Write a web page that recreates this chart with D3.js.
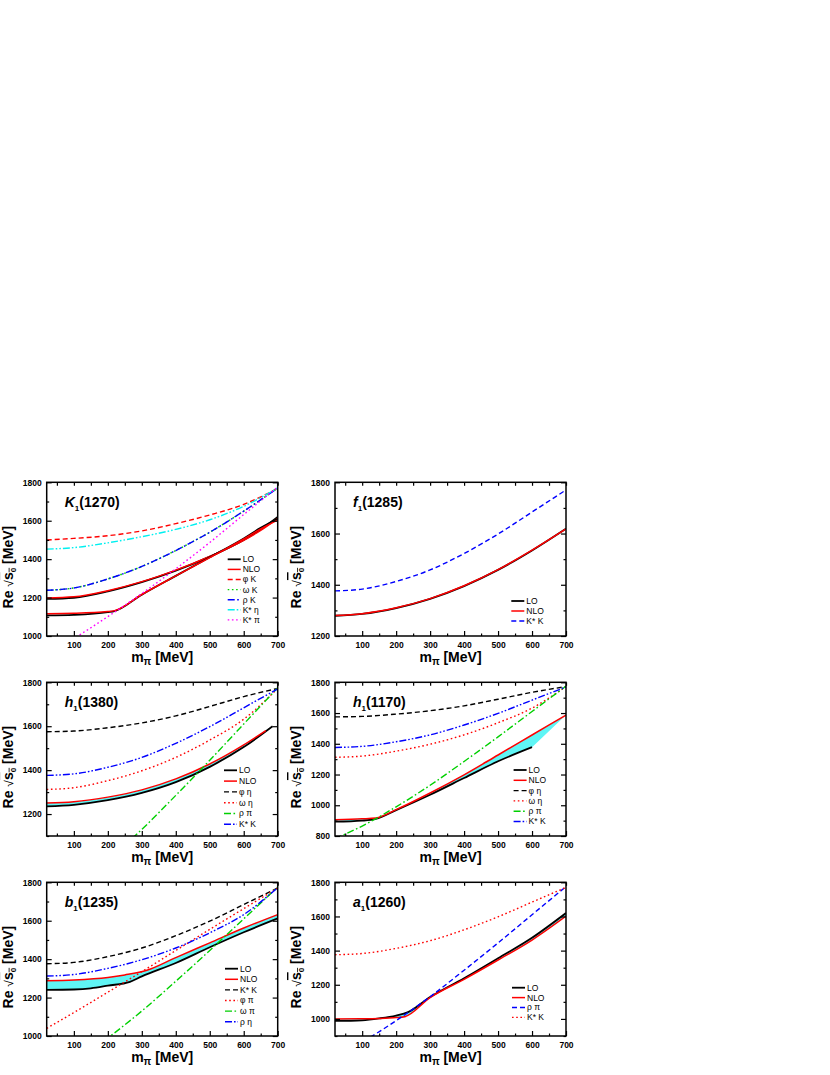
<!DOCTYPE html>
<html lang="en">
<head>
<meta charset="UTF-8" />
<title>Axial-vector poles vs pion mass</title>
<style>
    html, body { margin: 0; padding: 0; background: #fff; }
    svg { display: block; font-family: Arial, "Liberation Sans", sans-serif; }
</style>
</head>
<body>
<svg id="svg" width="830" height="1075"></svg>
<script src="https://cdn.jsdelivr.net/npm/d3@7"></script>
<script>
// common pion-mass grid (MeV) for the threshold curves
const mpi = [20, 100, 200, 300, 400, 500, 600, 700];

// thresholds shared between panels
const thrKstarK  = [1376, 1383, 1413, 1458, 1522, 1598, 1684, 1770];
const thrPhiEta  = [1575, 1578, 1593, 1615, 1647, 1690, 1735, 1772];
const thrOmegaEta = [1312, 1320, 1352, 1397, 1458, 1537, 1632, 1772]; // also rho eta
const thrRhoPi   = [783, 865, 990, 1130, 1285, 1445, 1610, 1775];     // also omega pi

// K1(1270)
const thrPhiK    = [1500, 1508, 1522, 1547, 1585, 1630, 1685, 1768];
const thrRhoK    = [1238, 1250, 1297, 1362, 1445, 1540, 1650, 1770];
const thrKstarEta = [1452, 1460, 1485, 1517, 1555, 1605, 1675, 1770];
const thrKstarPi = [910, 988, 1101, 1221, 1350, 1487, 1632, 1775];
const k1UpX   = [20, 100, 200, 300, 400, 500, 600, 650, 700];
const k1LOup  = [1193, 1199, 1232, 1280, 1340, 1413, 1500, 1555, 1620];
const k1NLOup = [1198, 1204, 1236, 1283, 1343, 1414, 1498, 1550, 1612];
const k1LowX   = [20, 100, 200, 220, 300, 400, 500, 600, 650, 700];
const k1LOlow  = [1107, 1110, 1124, 1130, 1215, 1313, 1410, 1508, 1563, 1610];
const k1NLOlow = [1116, 1118, 1127, 1132, 1216, 1313, 1408, 1505, 1558, 1603];

// f1(1285)
const f1LO  = [1279, 1286, 1309, 1345, 1395, 1458, 1534, 1619];
const f1NLO = [1280, 1287, 1310, 1346, 1396, 1459, 1535, 1618];

// h1(1380)
const h1aLOx  = [20, 100, 200, 300, 400, 500, 600, 685];
const h1aLO   = [1235, 1242, 1263, 1296, 1345, 1415, 1505, 1600];
const h1aNLOx = [20, 100, 200, 300, 400, 500, 600, 665];
const h1aNLO  = [1250, 1256, 1277, 1310, 1360, 1428, 1515, 1580];

// h1(1170)
const h1bLOx  = [20, 100, 140, 200, 300, 400, 500, 600];
const h1bLO   = [893, 900, 911, 968, 1068, 1177, 1286, 1378];
const h1bNLOx = [20, 100, 140, 200, 300, 400, 500, 600, 700];
const h1bNLO  = [906, 912, 917, 972, 1080, 1198, 1327, 1457, 1587];

// b1(1235)
const b1LOx  = [20, 100, 150, 200, 265, 300, 400, 500, 600, 700];
const b1LO   = [1240, 1242, 1248, 1262, 1282, 1310, 1380, 1462, 1540, 1612];
const b1NLOx = [20, 100, 200, 250, 315, 400, 500, 600, 700];
const b1NLO  = [1288, 1292, 1305, 1318, 1342, 1408, 1485, 1562, 1632];
const thrPhiPi = [1040, 1122, 1228, 1335, 1445, 1555, 1663, 1770];

// a1(1260)
const a1LOx  = [20, 100, 150, 200, 235, 300, 400, 500, 600, 700];
const a1LO   = [988, 992, 1003, 1020, 1040, 1128, 1238, 1355, 1475, 1620];
const a1NLOx = [20, 100, 150, 200, 225, 300, 400, 500, 600, 700];
const a1NLO  = [1000, 1001, 1003, 1008, 1013, 1125, 1232, 1345, 1462, 1602];

// ticks
const xMajor = [100, 200, 300, 400, 500, 600, 700];
const xMinor = [50, 150, 250, 350, 450, 550, 650];

// layout
const colX = [46.7, 335];
const rowY = [482.3, 682.3, 882.3];
const plotW = 231, plotH = 153.7;

// line styles
const DASH = "5,3", DOT = "1.6,2.6", DASHDOT = "7,2.5,1.6,2.5", DASHDOTDOT = "7,2,1.6,2,1.6,2";
const RED = "#ff0000", BLUE = "#0000ff", GREEN = "#00d000", CYAN = "#00f0f0", MAG = "#ff00ff";

function LO(x, y, leg = true) { return { x, y, color: "#000", dash: null, w: 1.8, label: leg ? "LO" : null }; }
function NLO(x, y, leg = true) { return { x, y, color: RED, dash: null, w: 1.5, label: leg ? "NLO" : null }; }
function thr(y, color, dash, label) { return { x: mpi, y, color, dash, w: 1.4, label }; }

const panels = [
    { col: 0, row: 0, letter: "K", mass: "(1270)", yDomain: [1000, 1800],
      yMajor: [1000, 1200, 1400, 1600, 1800], yMinor: [1100, 1300, 1500, 1700],
      leg: { dx: -50, y0: 77, step: 10.1 },
      series: [LO(k1UpX, k1LOup), NLO(k1UpX, k1NLOup), LO(k1LowX, k1LOlow, false), NLO(k1LowX, k1NLOlow, false),
               thr(thrPhiK, RED, DASH, "φ K"), thr(thrRhoK, GREEN, DOT, "ω K"), thr(thrRhoK, BLUE, DASHDOT, "ρ K"),
               thr(thrKstarEta, CYAN, DASHDOTDOT, "K* η"), thr(thrKstarPi, MAG, DOT, "K* π")] },
    { col: 1, row: 0, letter: "f", mass: "(1285)", yDomain: [1200, 1800],
      yMajor: [1200, 1400, 1600, 1800], yMinor: [1300, 1500, 1700],
      leg: { dx: -54.7, y0: 118.7, step: 10 },
      series: [LO(mpi, f1LO), NLO(mpi, f1NLO), thr(thrKstarK, BLUE, DASH, "K* K")] },
    { col: 0, row: 1, letter: "h", mass: "(1380)", yDomain: [1100, 1800],
      yMajor: [1200, 1400, 1600, 1800], yMinor: [1100, 1300, 1500, 1700],
      leg: { dx: -53.7, y0: 88, step: 10.8 },
      band: [h1aLOx, h1aLO, h1aNLOx, h1aNLO],
      series: [LO(h1aLOx, h1aLO), NLO(h1aNLOx, h1aNLO), thr(thrPhiEta, "#000", DASH, "φ η"),
               thr(thrOmegaEta, RED, DOT, "ω η"), thr(thrRhoPi, GREEN, DASHDOT, "ρ π"), thr(thrKstarK, BLUE, DASHDOTDOT, "K* K")] },
    { col: 1, row: 1, letter: "h", mass: "(1170)", yDomain: [800, 1800],
      yMajor: [800, 1000, 1200, 1400, 1600, 1800], yMinor: [900, 1100, 1300, 1500, 1700],
      leg: { dx: -52.4, y0: 87.7, step: 10.3 },
      band: [h1bLOx, h1bLO, h1bNLOx, h1bNLO],
      series: [LO(h1bLOx, h1bLO), NLO(h1bNLOx, h1bNLO), thr(thrPhiEta, "#000", DASH, "φ η"),
               thr(thrOmegaEta, RED, DOT, "ω η"), thr(thrRhoPi, GREEN, DASHDOT, "ρ π"), thr(thrKstarK, BLUE, DASHDOTDOT, "K* K")] },
    { col: 0, row: 2, letter: "b", mass: "(1235)", yDomain: [1000, 1800],
      yMajor: [1000, 1200, 1400, 1600, 1800], yMinor: [1100, 1300, 1500, 1700],
      leg: { dx: -52.7, y0: 86.4, step: 10.6 },
      band: [b1LOx, b1LO, b1NLOx, b1NLO],
      series: [LO(b1LOx, b1LO), NLO(b1NLOx, b1NLO), thr(thrKstarK, "#000", DASH, "K* K"),
               thr(thrPhiPi, RED, DOT, "φ π"), thr(thrRhoPi, GREEN, DASHDOT, "ω π"), thr(thrOmegaEta, BLUE, DASHDOTDOT, "ρ η")] },
    { col: 1, row: 2, letter: "a", mass: "(1260)", yDomain: [900, 1800],
      yMajor: [1000, 1200, 1400, 1600, 1800], yMinor: [900, 1100, 1300, 1500, 1700],
      leg: { dx: -54, y0: 105.4, step: 9.9 },
      band: [a1LOx, a1LO, a1NLOx, a1NLO],
      series: [LO(a1LOx, a1LO), NLO(a1NLOx, a1NLO), thr(thrRhoPi, BLUE, DASH, "ρ π"), thr(thrKstarK, RED, DOT, "K* K")] }
];

const svg = d3.select("#svg");
svg.append("rect").attr("width", 830).attr("height", 1075).attr("fill", "#fff");

function styleAxis(sel) {
    sel.select(".domain").remove();
    sel.selectAll("line").attr("stroke-width", 1.2);
    sel.selectAll("text").attr("font-size", 8.5).attr("font-weight", "bold").attr("fill", "#000");
}

panels.forEach((p, i) => {
    const left = colX[p.col], top = rowY[p.row];
    const g = svg.append("g").attr("transform", `translate(${left},${top})`);
    const x = d3.scaleLinear().domain([20, 700]).range([0, plotW]);
    const y = d3.scaleLinear().domain(p.yDomain).range([plotH, 0]);
    const line = d3.line().x(d => x(d[0])).y(d => y(d[1])).curve(d3.curveMonotoneX);

    g.append("clipPath").attr("id", "clip" + i)
        .append("rect").attr("width", plotW).attr("height", plotH);
    const plot = g.append("g").attr("clip-path", `url(#clip${i})`);

    // cyan band between LO and NLO
    if (p.band) {
        const [lx, ly, nx, ny] = p.band;
        const upper = line(d3.zip(nx, ny));
        const lower = line(d3.zip(lx, ly).reverse()).replace(/^M/, "L");
        plot.append("path").attr("d", upper + lower + "Z").attr("fill", "#5ff5f5").attr("stroke", "none");
    }

    p.series.forEach(s => {
        plot.append("path")
            .attr("d", line(d3.zip(s.x, s.y)))
            .attr("fill", "none")
            .attr("stroke", s.color)
            .attr("stroke-width", s.w)
            .attr("stroke-dasharray", s.dash);
    });

    // axes, ticks pointing inward on all four sides
    g.append("g").attr("transform", `translate(0,${plotH})`)
        .call(d3.axisBottom(x).tickValues(xMajor).tickSizeInner(-5).tickSizeOuter(0).tickPadding(6).tickFormat(d3.format("d")))
        .call(styleAxis);
    g.append("g").attr("transform", `translate(0,${plotH})`)
        .call(d3.axisBottom(x).tickValues(xMinor).tickSizeInner(-2.5).tickSizeOuter(0).tickFormat(""))
        .call(styleAxis);
    g.append("g")
        .call(d3.axisTop(x).tickValues(xMajor.concat(xMinor)).tickSizeInner(-3.5).tickSizeOuter(0).tickFormat(""))
        .call(styleAxis);
    g.append("g")
        .call(d3.axisLeft(y).tickValues(p.yMajor).tickSizeInner(-5).tickSizeOuter(0).tickPadding(5).tickFormat(d3.format("d")))
        .call(styleAxis);
    g.append("g")
        .call(d3.axisLeft(y).tickValues(p.yMinor).tickSizeInner(-2.5).tickSizeOuter(0).tickFormat(""))
        .call(styleAxis);
    g.append("g").attr("transform", `translate(${plotW},0)`)
        .call(d3.axisRight(y).tickValues(p.yMajor).tickSizeInner(-5).tickSizeOuter(0).tickFormat(""))
        .call(styleAxis);
    g.append("g").attr("transform", `translate(${plotW},0)`)
        .call(d3.axisRight(y).tickValues(p.yMinor).tickSizeInner(-2.5).tickSizeOuter(0).tickFormat(""))
        .call(styleAxis);

    g.append("rect").attr("width", plotW).attr("height", plotH)
        .attr("fill", "none").attr("stroke", "#000").attr("stroke-width", 1.5);

    // panel title
    const t = g.append("text").attr("x", 18).attr("y", 25)
        .attr("font-size", 14).attr("font-weight", "bold");
    t.append("tspan").attr("font-style", "italic").text(p.letter);
    t.append("tspan").attr("font-size", 8).attr("dy", 4).text("1");
    t.append("tspan").attr("dy", -4).text(p.mass);

    // legend
    p.series.filter(s => s.label).forEach((s, k) => {
        const ly = p.leg.y0 + k * p.leg.step;
        const lx = plotW + p.leg.dx;
        g.append("line").attr("x1", lx).attr("x2", lx + 13).attr("y1", ly).attr("y2", ly)
            .attr("stroke", s.color).attr("stroke-width", s.w).attr("stroke-dasharray", s.dash);
        g.append("text").attr("x", lx + 15).attr("y", ly).attr("dy", "0.35em")
            .attr("font-size", 8.5).text(s.label);
    });

    // axis titles
    const yt = svg.append("text")
        .attr("transform", `translate(${left - 34},${top + plotH / 2 + 8}) rotate(-90)`)
        .attr("text-anchor", "middle").attr("font-size", 14).attr("font-weight", "bold");
    yt.append("tspan").text("Re ");
    yt.append("tspan").attr("font-weight", "normal").attr("font-size", 12).text("√");
    yt.append("tspan").attr("text-decoration", "overline").text("s");
    yt.append("tspan").attr("font-size", 8).attr("dy", 3).attr("text-decoration", "overline").text("0");
    yt.append("tspan").attr("dy", -3).text(" [MeV]");

    const xt = svg.append("text")
        .attr("x", left + plotW / 2).attr("y", top + plotH + 25.5)
        .attr("text-anchor", "middle").attr("font-size", 14).attr("font-weight", "bold");
    xt.append("tspan").text("m");
    xt.append("tspan").attr("font-size", 10).attr("dy", 3).text("π");
    xt.append("tspan").attr("dy", -3).text(" [MeV]");
});
</script>
</body>
</html>
